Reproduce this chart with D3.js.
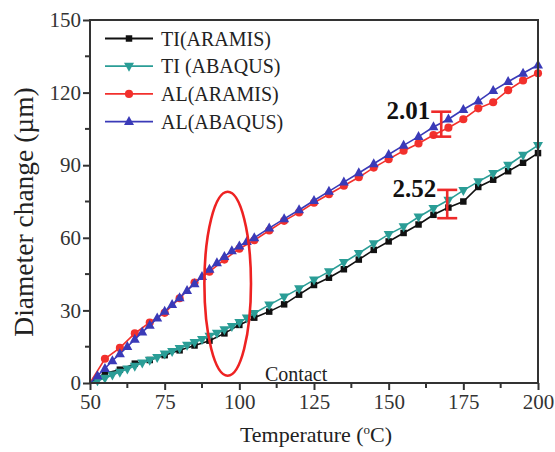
<!DOCTYPE html>
<html>
<head>
<meta charset="utf-8">
<script src="https://cdn.jsdelivr.net/npm/d3@7"></script>
<style>
  body { margin: 0; background: #fff; }
  text { font-family: "Liberation Serif", "Times New Roman", serif; }
</style>
</head>
<body>
<svg id="main-svg" width="555" height="452"></svg>
<script>
// ARAMIS measurements, every 5 C
var tempAramis = [50, 55, 60, 65, 70, 75, 80, 85, 90, 95, 100, 105, 110, 115, 120, 125, 130, 135, 140, 145,
    150, 155, 160, 165, 170, 175, 180, 185, 190, 195, 200]
var tiAramis = [0, 4, 5.5, 8, 9.5, 11.5, 13.5, 15.5, 17.5, 20.5, 24, 27, 29.5, 32.5, 36.5, 40.5, 43.5, 47, 51, 55,
    58.5, 62, 65.5, 69.5, 72.5, 75, 81, 84, 87.5, 91, 95]
var alAramis = [0, 10, 14.5, 20.5, 25, 29, 35, 41.5, 46, 51, 55.5, 59, 63, 67, 70.5, 74.5, 78, 81.5, 85, 89,
    92.5, 96, 99, 102.5, 105.5, 109, 113.5, 116, 121, 125, 128]

// ABAQUS simulation, 2.5 C steps up to 105 then 5 C
var tempAbaqus = [50, 52.5, 55, 57.5, 60, 62.5, 65, 67.5, 70, 72.5, 75, 77.5, 80, 82.5, 85, 87.5, 90, 92.5, 95, 97.5,
    100, 102.5, 105, 110, 115, 120, 125, 130, 135, 140, 145, 150, 155, 160, 165, 170, 175, 180, 185, 190, 195, 200]
var tiAbaqus = [0, 1, 2, 3.3, 4.5, 5.8, 7, 8.3, 9.4, 10.6, 12, 13.1, 14.3, 15.6, 16.8, 18, 19.4, 20.6, 22, 23.4,
    25, 26.9, 28.8, 32.3, 35.6, 39, 42.6, 46, 49.8, 53.6, 57.6, 61.4, 64.6, 68.6, 72.2, 75.6, 79.6, 83.2, 86.6, 90, 94.2, 98.2]
var alAbaqus = [0, 3, 6, 9.2, 12, 15, 18, 21, 23.8, 26.8, 29.6, 32.4, 35.2, 38.2, 41, 44, 47, 49.6, 52.2, 54.6,
    56.6, 58.4, 60, 64, 67.8, 71.5, 75.4, 79.2, 83, 86.8, 90.6, 94.4, 98.2, 101.8, 105.8, 109, 113, 116.5, 120.8, 124.5, 128, 131.4]

var seriesNames = ['TI(ARAMIS)', 'TI (ABAQUS)', 'AL(ARAMIS)', 'AL(ABAQUS)']
var xTicks = [50, 75, 100, 125, 150, 175, 200]
var yTicks = [0, 30, 60, 90, 120, 150]

// error bar annotations: [temperature, low, high, label]
var errTemp = [167.6, 169.6]
var errLow = [101.8, 68.1]
var errHigh = [112.1, 79.8]
var errLabel = ['2.01', '2.52']

// highlighted contact region (ellipse centre and radii in data units)
var contactCentre = [96.1, 41]
var contactRadius = [7.8, 38]

var svg = d3.select('#main-svg')
var padL = 90, padR = 538, padT = 20, padB = 383
var x = d3.scaleLinear().domain([50, 200]).range([padL, padR])
var y = d3.scaleLinear().domain([0, 150]).range([padB, padT])
var axisColor = '#333'

function zip(xs, ys) {
    return xs.map(function(t, i) { return [t, ys[i]] })
}

var series = [
    {name: seriesNames[0], data: zip(tempAramis, tiAramis), color: '#111', marker: 'square'},
    {name: seriesNames[1], data: zip(tempAbaqus, tiAbaqus), color: '#2a9d96', marker: 'down'},
    {name: seriesNames[2], data: zip(tempAramis, alAramis), color: '#f2302c', marker: 'circle'},
    {name: seriesNames[3], data: zip(tempAbaqus, alAbaqus), color: '#3a3ab8', marker: 'up'}
]

function markerPath(type) {
    if (type == 'square') return d3.symbol(d3.symbolSquare, 42)()
    if (type == 'circle') return d3.symbol(d3.symbolCircle, 52)()
    if (type == 'up') return 'M0,-5.6L5,3.4L-5,3.4Z'
    return 'M0,5.6L5,-3.4L-5,-3.4Z'
}

var line = d3.line().x(function(d) { return x(d[0]) }).y(function(d) { return y(d[1]) })

// lines and markers
series.forEach(function(s) {
    svg.append('path')
        .attr('d', line(s.data))
        .attr('fill', 'none')
        .attr('stroke', s.color)
        .attr('stroke-width', 1.6)
    svg.selectAll(null)
        .data(s.data.slice(1))
        .enter().append('path')
        .attr('d', markerPath(s.marker))
        .attr('transform', function(d) { return 'translate(' + x(d[0]) + ',' + y(d[1]) + ')' })
        .attr('fill', s.color)
})

// contact ellipse
svg.append('ellipse')
    .attr('cx', x(contactCentre[0]))
    .attr('cy', y(contactCentre[1]))
    .attr('rx', x(contactCentre[0] + contactRadius[0]) - x(contactCentre[0]))
    .attr('ry', y(0) - y(contactRadius[1]))
    .attr('fill', 'none')
    .attr('stroke', '#ee2222')
    .attr('stroke-width', 2.6)

// error bars
errTemp.forEach(function(t, i) {
    var cx = x(t), y1 = y(errHigh[i]), y2 = y(errLow[i])
    var g = svg.append('g').attr('stroke', '#ee2a2a').attr('stroke-width', 2.6)
    g.append('line').attr('x1', cx).attr('x2', cx).attr('y1', y1).attr('y2', y2)
    g.append('line').attr('x1', cx - 10).attr('x2', cx + 10).attr('y1', y1).attr('y2', y1)
    g.append('line').attr('x1', cx - 10).attr('x2', cx + 10).attr('y1', y2).attr('y2', y2)
    svg.append('text')
        .attr('x', cx - 11)
        .attr('y', y1 + 7)
        .attr('text-anchor', 'end')
        .attr('font-size', 25)
        .attr('font-weight', 'bold')
        .attr('fill', '#111')
        .text(errLabel[i])
})

// frame
svg.append('rect')
    .attr('x', padL).attr('y', padT)
    .attr('width', padR - padL).attr('height', padB - padT)
    .attr('fill', 'none')
    .attr('stroke', axisColor)
    .attr('stroke-width', 2)

// axes
var xAxis = svg.append('g')
    .attr('transform', 'translate(0,' + padB + ')')
    .call(d3.axisBottom(x).tickValues(xTicks).tickSize(7).tickPadding(4).tickFormat(d3.format('d')))
var yAxis = svg.append('g')
    .attr('transform', 'translate(' + padL + ',0)')
    .call(d3.axisLeft(y).tickValues(yTicks).tickSize(7).tickPadding(2).tickFormat(d3.format('d')))
;[xAxis, yAxis].forEach(function(a) {
    a.select('.domain').remove()
    a.selectAll('line').attr('stroke', axisColor).attr('stroke-width', 2)
    a.selectAll('text').attr('font-size', 21).attr('fill', '#333')
        .style('font-family', '"Liberation Serif", serif')
})
// minor ticks
svg.append('g').selectAll('line')
    .data(xTicks.slice(0, -1).map(function(d) { return d + 12.5 }))
    .enter().append('line')
    .attr('x1', function(d) { return x(d) }).attr('x2', function(d) { return x(d) })
    .attr('y1', padB).attr('y2', padB + 5)
    .attr('stroke', axisColor).attr('stroke-width', 2)
svg.append('g').selectAll('line')
    .data(yTicks.slice(0, -1).map(function(d) { return d + 15 }))
    .enter().append('line')
    .attr('y1', function(d) { return y(d) }).attr('y2', function(d) { return y(d) })
    .attr('x1', padL).attr('x2', padL - 5)
    .attr('stroke', axisColor).attr('stroke-width', 2)

// axis titles
svg.append('text')
    .attr('x', (padL + padR) / 2 + 2)
    .attr('y', 442)
    .attr('text-anchor', 'middle')
    .attr('font-size', 22)
    .attr('fill', '#222')
    .html('Temperature (<tspan dy="-8" font-size="13">o</tspan><tspan dy="8">C)</tspan>')
svg.append('text')
    .attr('transform', 'translate(33,' + 212 + ') rotate(-90)')
    .attr('text-anchor', 'middle')
    .attr('font-size', 27.5)
    .attr('fill', '#222')
    .text('Diameter change (\u00b5m)')

svg.append('text')
    .attr('x', 265)
    .attr('y', 381)
    .attr('font-size', 20)
    .attr('fill', '#222')
    .text('Contact')

// legend
var legend = svg.append('g')
series.forEach(function(s, i) {
    var ly = 38.5 + i * 27.7
    legend.append('line')
        .attr('x1', 105).attr('x2', 153).attr('y1', ly).attr('y2', ly)
        .attr('stroke', s.color).attr('stroke-width', 1.8)
    legend.append('path')
        .attr('d', markerPath(s.marker))
        .attr('transform', 'translate(129,' + ly + ')')
        .attr('fill', s.color)
    legend.append('text')
        .attr('x', 161).attr('y', ly + 7)
        .attr('font-size', 20)
        .attr('fill', '#222')
        .text(s.name)
})
</script>
</body>
</html>
